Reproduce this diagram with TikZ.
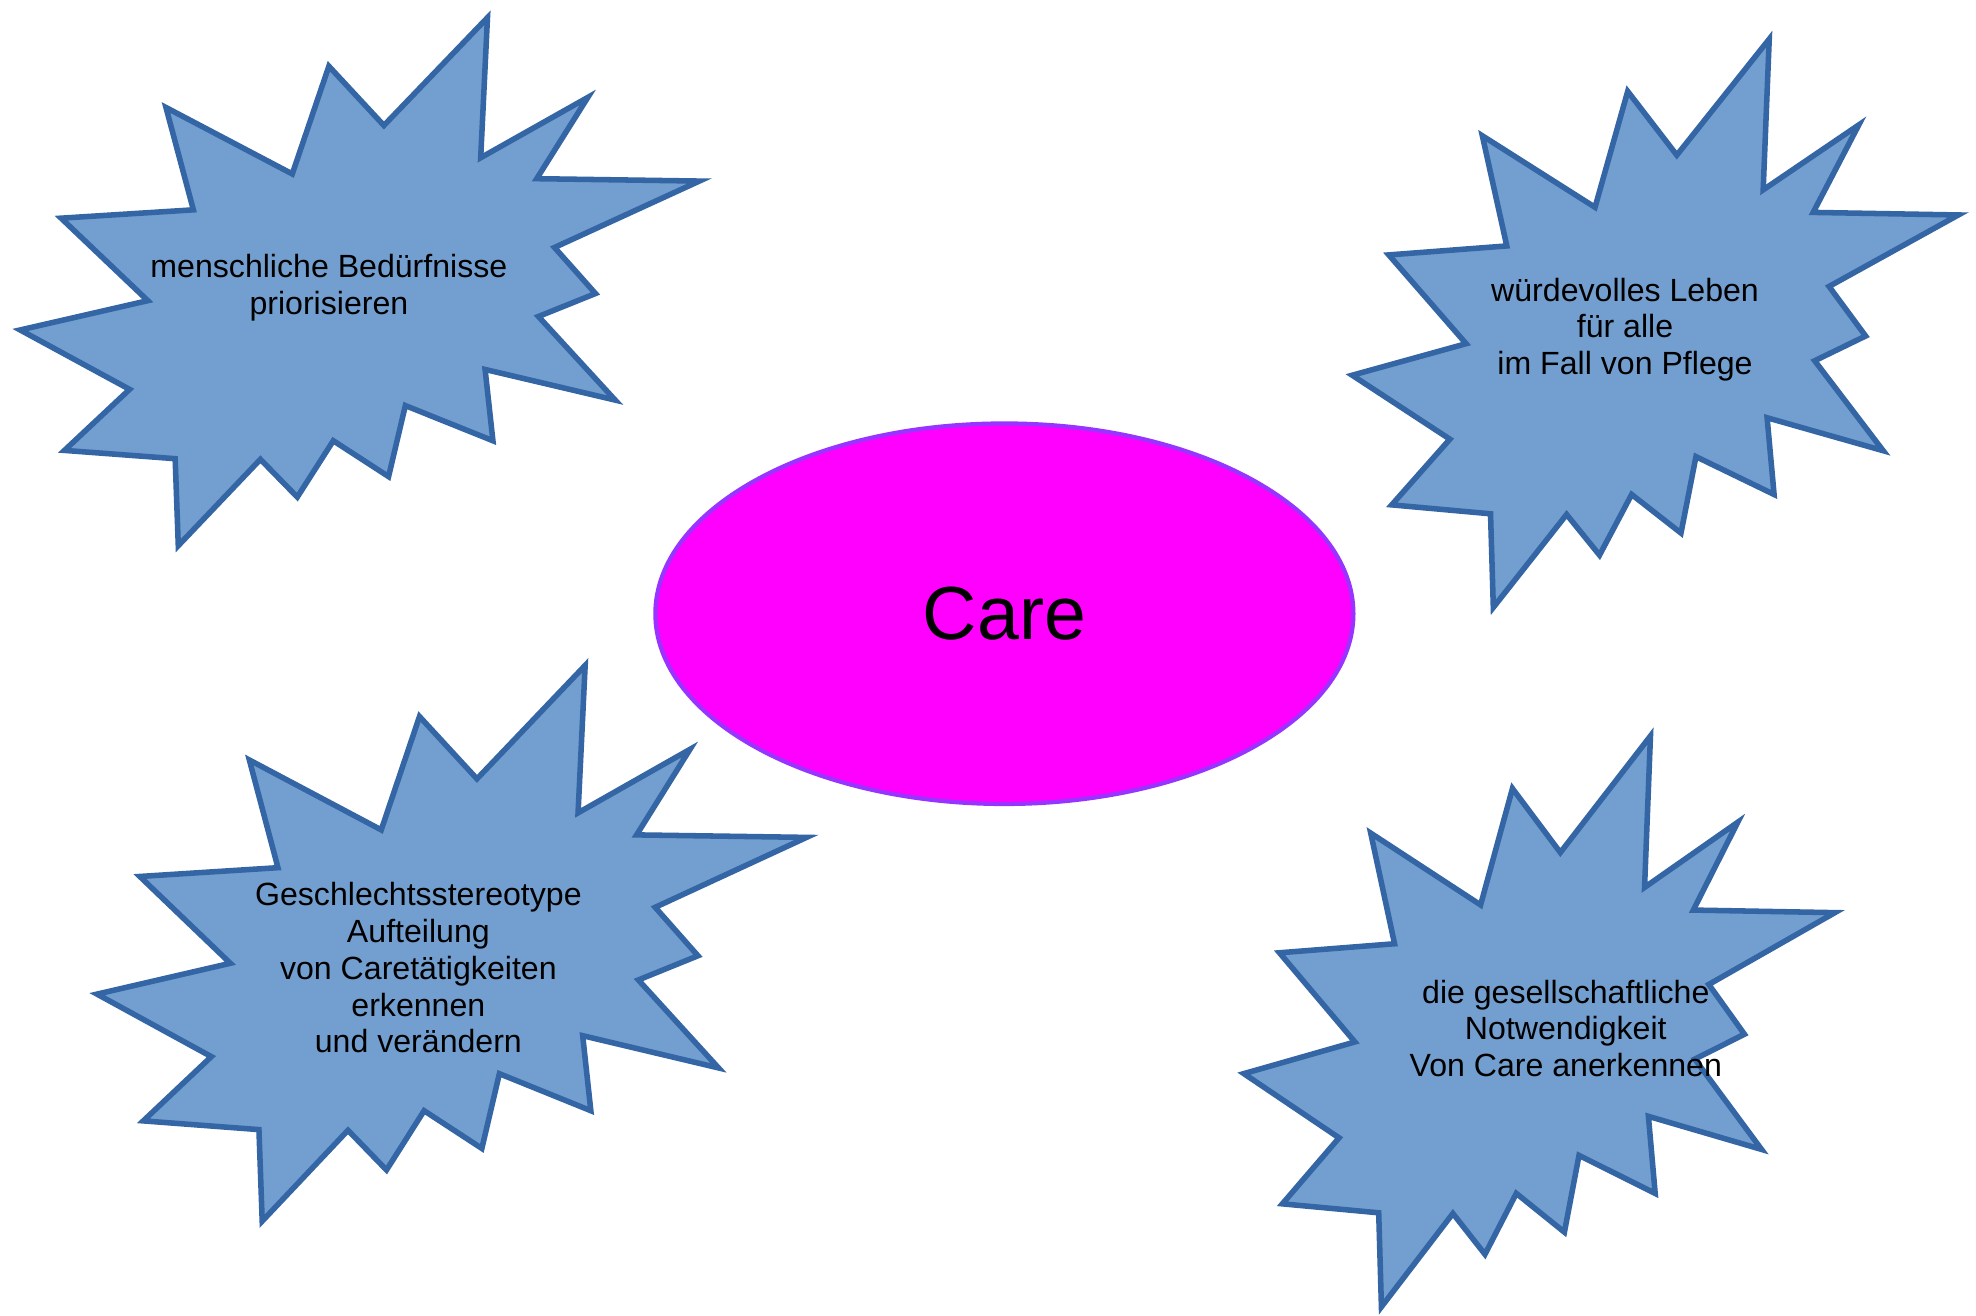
\documentclass[tikz,border=0pt]{standalone}
\usepackage{fontspec}
\setmainfont{Liberation Sans}
\usetikzlibrary{shapes.geometric}
\definecolor{starfill}{HTML}{729FCF}
\definecolor{starline}{HTML}{3465A4}
\definecolor{carefill}{HTML}{FF00FF}
\definecolor{careline}{HTML}{9933FF}
\tikzset{
  burst/.style={draw=starline, fill=starfill, line width=2.5pt, miter limit=12},
  bursttext/.style={align=center, font=\fontsize{14.5}{16.6}\selectfont, inner sep=0pt},
  carenode/.style={ellipse, draw=careline, fill=carefill, line width=1.9pt,
    minimum width=11.08cm, minimum height=6.04cm, inner sep=0pt,
    font=\fontsize{34}{40}\selectfont}
}
% #1 left, #2 top, #3 width, #4 height (picture units)
\newcommand\burstshape[4]{%
  \begin{scope}[shift={(#1,#2)}, xscale=#3/1000, yscale=#4/1000]
    \draw[burst] (0,591.5) -- (187.9,536) -- (60.3,379.8) -- (255,364)
      -- (214.7,170.2) -- (400.6,296) -- (454.5,92) -- (535.5,204.2)
      -- (688,0) -- (678,265.3) -- (835.7,151.1) -- (760.5,305)
      -- (1000,309.5) -- (786.7,435.3) -- (847,522.5) -- (763,566)
      -- (876,724.3) -- (684.5,666.3) -- (696,801.3) -- (567.1,734.7)
      -- (542.4,869.2) -- (461,801.3) -- (408,908) -- (353.7,836.5)
      -- (232.8,1000) -- (228.2,835.3) -- (65.2,819.6) -- (161.1,704) -- cycle;
  \end{scope}}
\begin{document}
\begin{tikzpicture}[x=0.02cm, y=-0.02cm]
  \useasboundingbox (0,0) rectangle (1568,1044);
  \fill[white] (0,0) rectangle (1568,1044);

  \burstshape{16}{14}{539}{419}
  \burstshape{1073}{31}{481}{451}
  \burstshape{77}{528}{563}{441}
  \burstshape{987}{584}{469}{453}

  \node[carenode] (care) at (797,487) {Care};

  \node[bursttext] (t1) at (261,228.5) {menschliche Bedürfnisse\\priorisieren};
  \node[bursttext] (t2) at (1289.5,261.5) {würdevolles Leben\\für alle\\im Fall von Pflege};
  \node[bursttext] (t3) at (332,768) {Geschlechtsstereotype\\Aufteilung\\von Caretätigkeiten\\erkennen\\und verändern};
  \node[bursttext] (t4) at (1242.5,816) {die gesellschaftliche\\Notwendigkeit\\Von Care anerkennen};
\end{tikzpicture}
\end{document}
